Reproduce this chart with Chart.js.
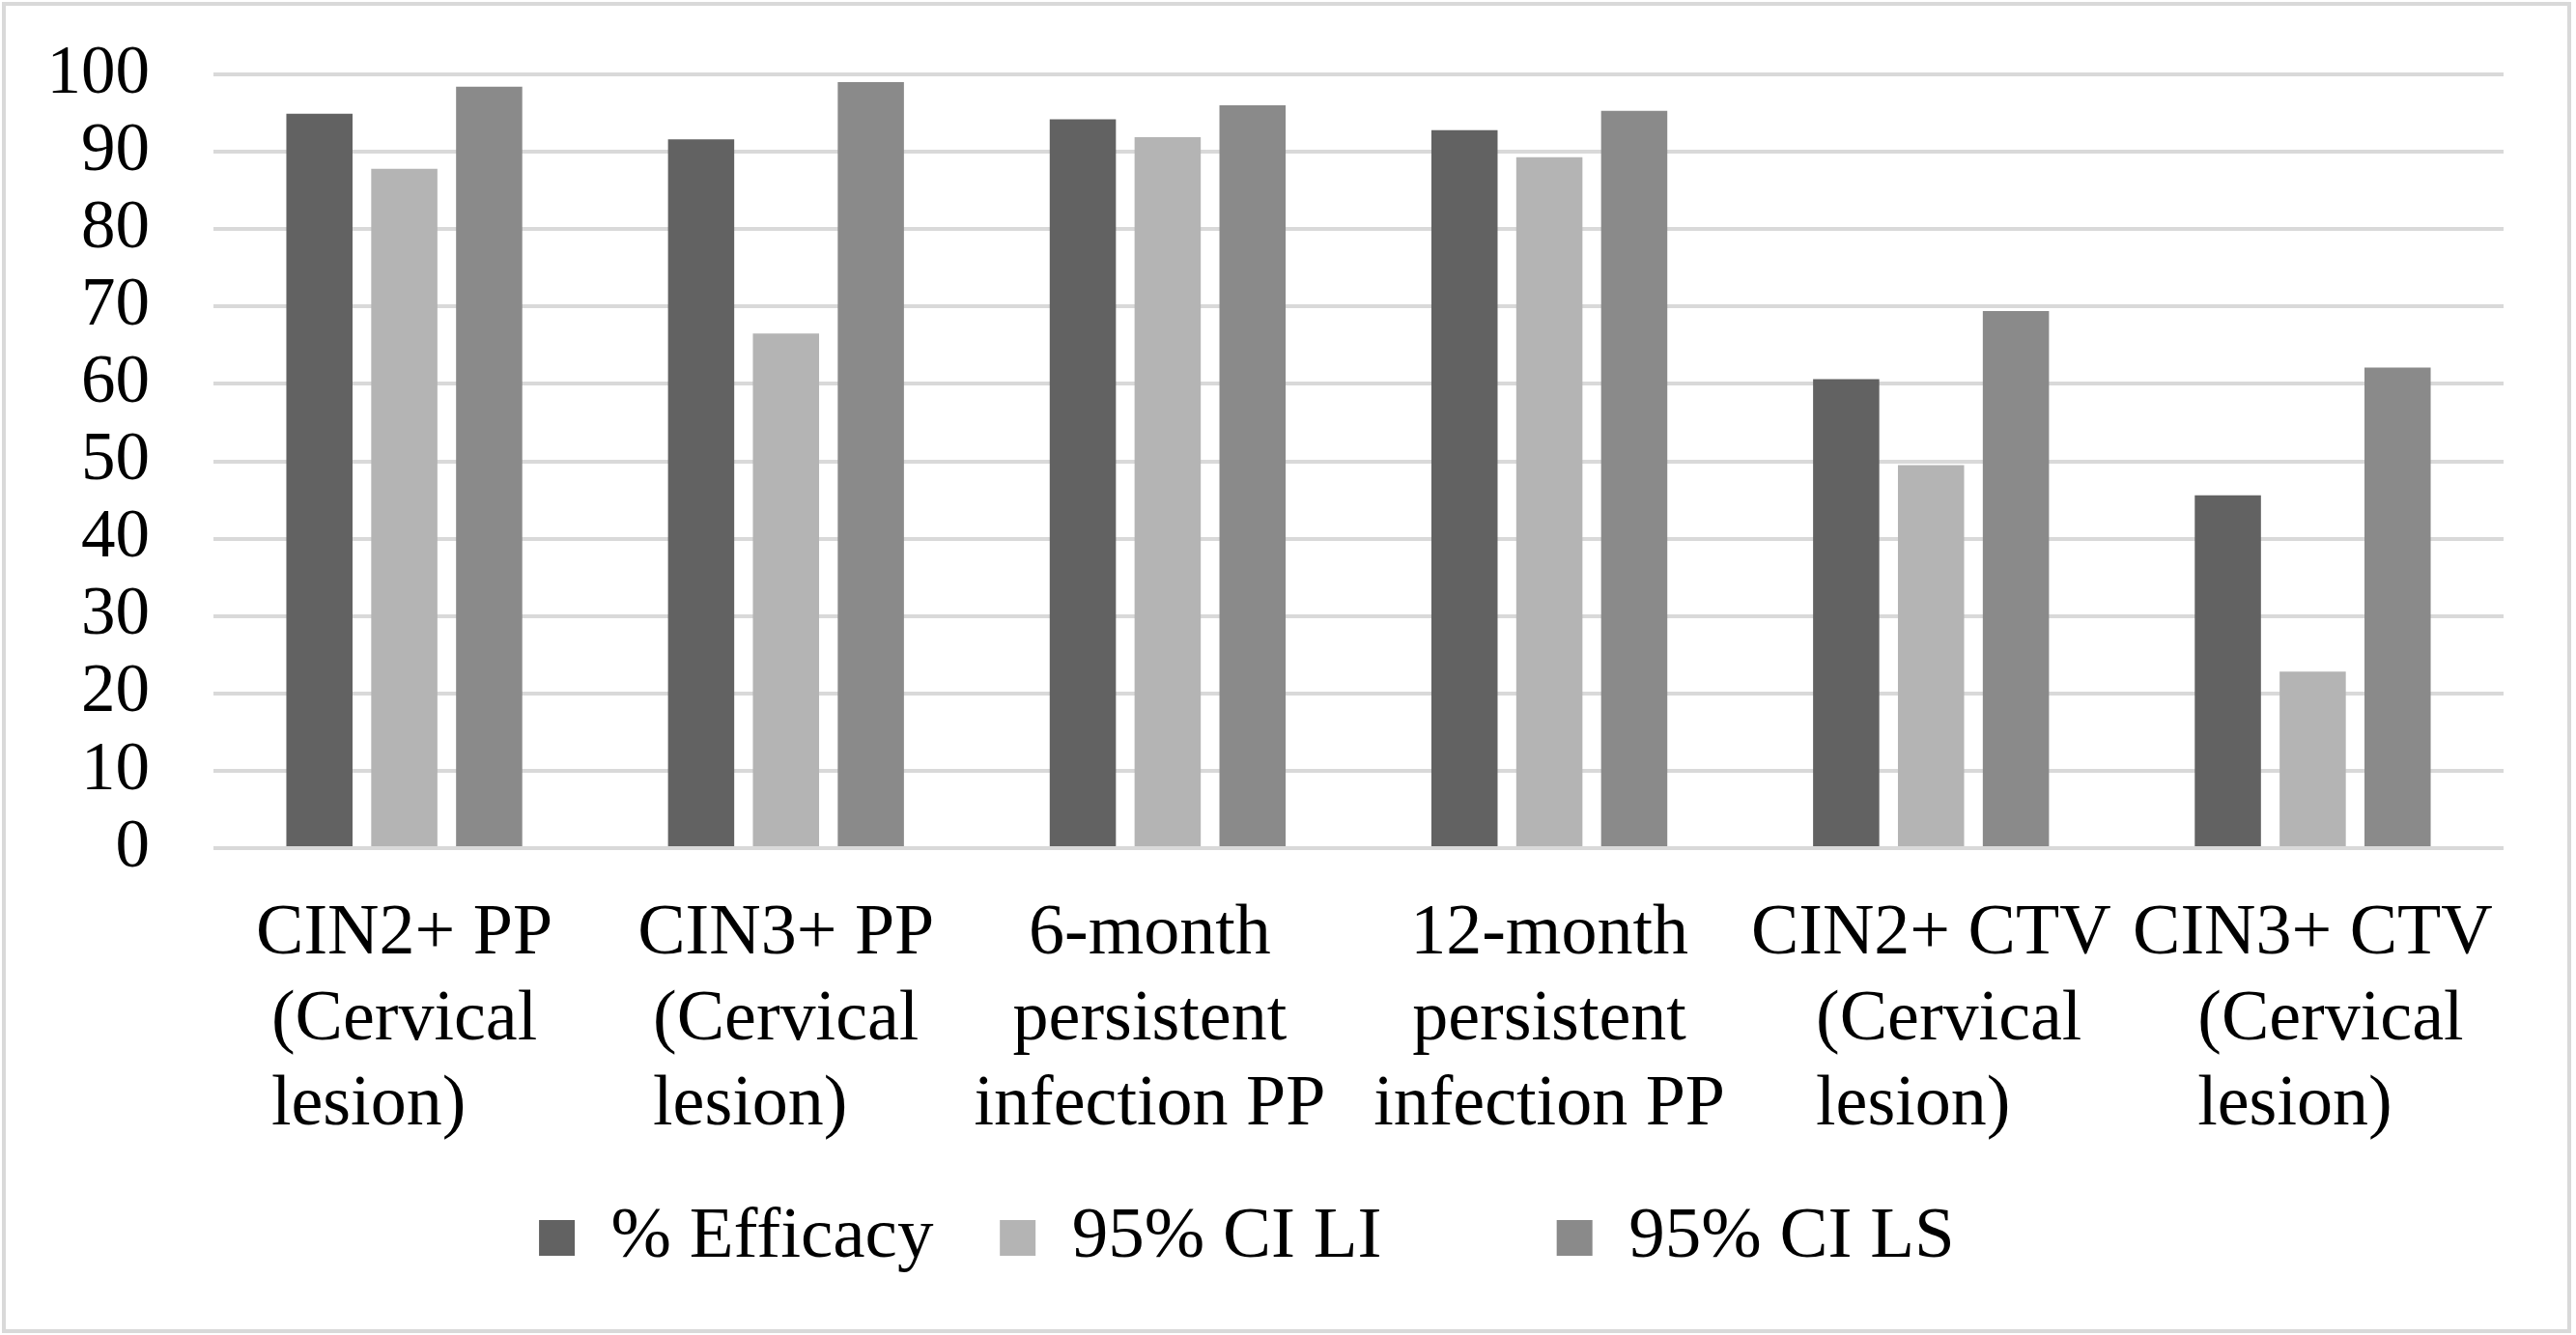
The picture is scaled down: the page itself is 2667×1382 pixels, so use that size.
<!DOCTYPE html>
<html lang="en">
    <head>
        <meta charset="UTF-8">
        <title>HPV vaccine efficacy</title>
        <script src="https://cdn.jsdelivr.net/npm/chart.js"></script>
        <style>
            html, body {
                margin: 0;
                padding: 0;
                background: #ffffff;
            }

            .chart-container {
                position: relative;
                width: 2667px;
                height: 1382px;
            }

            #chart {
                position: absolute;
                left: 0;
                top: 0;
            }

            .frame {
                position: absolute;
                left: 2px;
                top: 2px;
                width: 2660px;
                height: 1378px;
                box-sizing: border-box;
                border: 4px solid #d9d9d9;
                pointer-events: none;
            }
        </style>
    </head>
    <body>
        <div class="chart-container">
            <canvas id="chart" width="2667" height="1382"></canvas>
            <div class="frame"></div>
        </div>

        <script>
            const categories = [
                ['CIN2+ PP', '(Cervical', 'lesion)'],
                ['CIN3+ PP', '(Cervical', 'lesion)'],
                ['6-month', 'persistent', 'infection PP'],
                ['12-month', 'persistent', 'infection PP'],
                ['CIN2+ CTV', '(Cervical', 'lesion)'],
                ['CIN3+ CTV', '(Cervical', 'lesion)']
            ];
            const seriesNames = ['% Efficacy', '95% CI LI', '95% CI LS'];
            const efficacy = [94.9, 91.6, 94.2, 92.8, 60.6, 45.6];
            const ciLower = [87.8, 66.5, 91.9, 89.3, 49.5, 22.8];
            const ciUpper = [98.4, 99.0, 96.0, 95.3, 69.4, 62.1];
            const yTicks = [0, 10, 20, 30, 40, 50, 60, 70, 80, 90, 100];

            const FONT = "'Liberation Serif', 'Times New Roman', serif";
            const NBSP = '\u00a0';
            const LABEL_SIZE = 74;

            // Excel keeps "(Cervical" / "lesion)" left aligned to each other,
            // and nudges some labels a little off centre
            const measureCtx = document.createElement('canvas').getContext('2d');
            measureCtx.font = `${LABEL_SIZE}px ${FONT}`;
            function padRight(text, width) {
                while (measureCtx.measureText(text + NBSP).width <= width + 9) text += NBSP;
                return text;
            }
            const tailLead = [0, 0, 0, 0, 2, 2];
            const allTrail = [0, 0, 2, 0, 0, 0];
            function tickLines(i) {
                let lines = categories[i].slice();
                if (lines[1].startsWith('(')) {
                    lines[2] = padRight(lines[2], measureCtx.measureText(lines[1]).width);
                    const lead = NBSP.repeat(tailLead[i]);
                    lines[1] = lead + lines[1];
                    lines[2] = lead + lines[2];
                }
                lines = lines.map(l => l + NBSP.repeat(allTrail[i]));
                return lines;
            }

            // uneven legend spacing as in the original
            const legendGap = [1, 7, 3];

            Chart.defaults.font.family = FONT;
            Chart.defaults.color = '#000000';

            const ctx = document.getElementById('chart').getContext('2d');
            new Chart(ctx, {
                type: 'bar',
                data: {
                    labels: categories,
                    datasets: [
                        { label: seriesNames[0], data: efficacy, backgroundColor: '#626262' },
                        { label: seriesNames[1], data: ciLower, backgroundColor: '#b4b4b4' },
                        { label: seriesNames[2], data: ciUpper, backgroundColor: '#8a8a8a' }
                    ]
                },
                options: {
                    responsive: false,
                    animation: false,
                    devicePixelRatio: 1,
                    datasets: {
                        bar: {
                            categoryPercentage: 0.667,
                            barPercentage: 0.78,
                            borderWidth: 0
                        }
                    },
                    layout: {
                        padding: { left: 46, right: 75, top: 77, bottom: 53 }
                    },
                    plugins: {
                        legend: {
                            position: 'bottom',
                            labels: {
                                font: { size: 75 },
                                boxWidth: 37,
                                boxHeight: 37,
                                padding: 50,
                                generateLabels: (chart) => chart.data.datasets.map((ds, i) => ({
                                    text: ds.label + NBSP.repeat(legendGap[i]),
                                    fillStyle: ds.backgroundColor,
                                    strokeStyle: ds.backgroundColor,
                                    lineWidth: 0,
                                    datasetIndex: i
                                }))
                            }
                        },
                        tooltip: { enabled: false }
                    },
                    scales: {
                        x: {
                            grid: { display: false, drawTicks: false },
                            border: { display: false },
                            ticks: {
                                font: { size: LABEL_SIZE, lineHeight: 1.2 },
                                padding: 45,
                                maxRotation: 0,
                                autoSkip: false,
                                callback: (value, index) => tickLines(index)
                            },
                            afterFit: (scale) => {
                                scale.height = 316;
                            }
                        },
                        y: {
                            min: 0,
                            max: 100,
                            afterBuildTicks: (scale) => {
                                scale.ticks = yTicks.map(v => ({ value: v }));
                            },
                            afterFit: (scale) => {
                                scale.width = 175;
                            },
                            grid: {
                                color: '#d9d9d9',
                                lineWidth: 4,
                                drawTicks: false
                            },
                            border: { display: false },
                            ticks: {
                                // small line height so the top label does not push the plot down
                                font: { size: 71, lineHeight: 0.2 },
                                padding: 66,
                                autoSkip: false
                            }
                        }
                    }
                }
            });
        </script>
    </body>
</html>
